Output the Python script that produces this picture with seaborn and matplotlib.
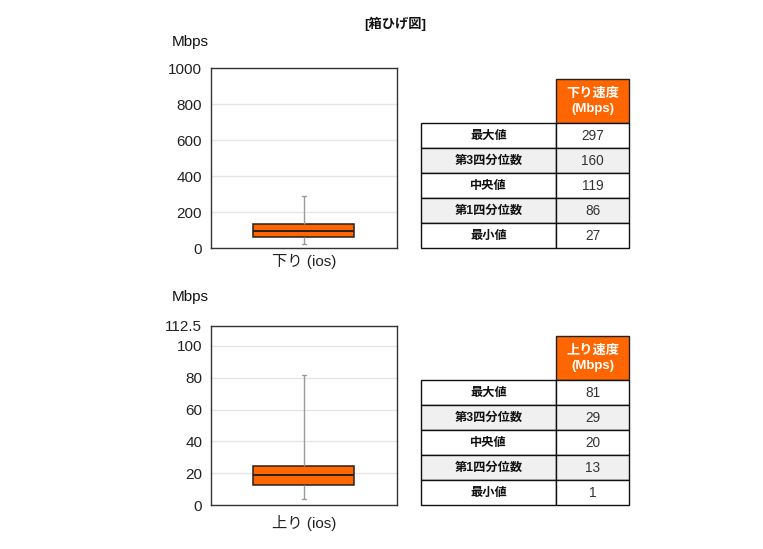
import numpy as np
import pandas as pd
import matplotlib
matplotlib.use("Agg")
import matplotlib.pyplot as plt
import seaborn as sns

# ---------------- data ----------------
title = "[箱ひげ図]"
unit = "Mbps"
down_label = "下り (ios)"
up_label = "上り (ios)"
# five-number summaries as drawn in the box plots (min, Q1, median, Q3, max)
down_box = [24, 63, 96, 137, 290]
up_box = [4, 12.7, 18.8, 24.8, 81.6]
# tables
stat_names = ["最大値", "第3四分位数", "中央値", "第1四分位数", "最小値"]
down_header = "下り速度\n(Mbps)"
up_header = "上り速度\n(Mbps)"
down_table = [297, 160, 119, 86, 27]
up_table = [81, 29, 20, 13, 1]
down_ticks = [0, 200, 400, 600, 800, 1000]
down_tick_labels = ["0", "200", "400", "600", "800", "1000"]
up_ticks = [0, 20, 40, 60, 80, 100, 112.5]
up_tick_labels = ["0", "20", "40", "60", "80", "100", "112.5"]

# ---------------- style ----------------
sns.set_theme(style="white")
FAM = ["Liberation Sans", "Noto Sans CJK JP", "DejaVu Sans"]
plt.rcParams["font.family"] = FAM

ORANGE = "#FF6600"
EDGE = "#2a2018"
WHISK = "#9a9a9a"
GRID = "#e6e6e6"
SPINE = "#333333"
ROWGRAY = "#f0f0f0"

W, H = 763, 549
fig = plt.figure(figsize=(W / 100, H / 100), dpi=100)
fig.patch.set_facecolor("white")


def rect(x0, y0, x1, y1):
    return [x0 / W, 1 - y1 / H, (x1 - x0) / W, (y1 - y0) / H]


def draw_box(axrect, label, values, ticks, ticklabels, ymax, unit_y, xpad):
    ax = fig.add_axes(rect(*axrect))
    df = pd.DataFrame({"cat": [label] * len(values), "v": values})
    sns.boxplot(
        data=df, x="cat", y="v", ax=ax, width=0.54, whis=(0, 100),
        color=ORANGE, saturation=1, linecolor=EDGE, linewidth=1.1,
        whiskerprops=dict(color=WHISK, linewidth=1.0),
        capprops=dict(color=WHISK, linewidth=1.0),
        medianprops=dict(color=EDGE, linewidth=1.4),
        capwidths=0.022,
    )
    ax.set_ylim(0, ymax)
    ax.set_xlim(-0.5, 0.5)
    ax.set_yticks(ticks)
    ax.set_yticklabels(ticklabels)
    ax.set_xlabel("")
    ax.set_ylabel("")
    ax.yaxis.grid(True, color=GRID, linewidth=1.0)
    ax.set_axisbelow(True)
    for s in ax.spines.values():
        s.set_visible(True)
        s.set_color(SPINE)
        s.set_linewidth(1.0)
    ax.tick_params(axis="both", length=0, labelsize=11, colors="#222222")
    ax.tick_params(axis="x", pad=xpad)
    ax.tick_params(axis="y", pad=6)
    fig.text(172 / W, 1 - unit_y / H, unit, fontsize=11, color="#111111",
             ha="left", va="center")
    return ax


def draw_table(tabrect, header, values):
    ax = fig.add_axes(rect(*tabrect))
    ax.axis("off")
    cell_text = [["", header]] + [[n, str(v)] for n, v in zip(stat_names, values)]
    tbl = ax.table(cellText=cell_text, cellLoc="center", bbox=[0, 0, 1, 1])
    tbl.auto_set_font_size(False)
    col_w = [134.4, 73.6]
    for (r, c), cell in tbl.get_celld().items():
        cell.set_width(col_w[c])
        cell.set_height(44 if r == 0 else 25)
        cell.set_edgecolor("#111111")
        cell.set_linewidth(1.0)
        txt = cell.get_text()
        if r == 0:
            if c == 0:
                cell.set_visible(False)
            else:
                cell.set_facecolor(ORANGE)
                cell.set_edgecolor("#222222")
                txt.set_color("white")
                txt.set_fontsize(9.5)
                txt.set_fontweight("bold")
                txt.set_linespacing(1.35)
        else:
            cell.set_facecolor(ROWGRAY if r in (2, 4) else "white")
            if c == 0:
                txt.set_fontsize(8.8)
                txt.set_fontweight("bold")
                txt.set_color("#111111")
            else:
                txt.set_fontsize(9.8)
                txt.set_color("#333333")
    return ax


fig.text(395 / W, 1 - 24 / H, title, fontsize=9.5, fontweight="bold",
         ha="center", va="center", color="#111111")

draw_box((210.5, 68, 397, 248.3), down_label, down_box, down_ticks,
         down_tick_labels, 1000, 42, 4)
draw_box((210.5, 325.7, 397, 505.3), up_label, up_box, up_ticks,
         up_tick_labels, 112.5, 297, 7)

draw_table((421.3, 79.3, 629.3, 248.3), down_header, down_table)
draw_table((421.3, 336, 629.3, 505.3), up_header, up_table)

fig.savefig("out.png", dpi=100, facecolor="white")
